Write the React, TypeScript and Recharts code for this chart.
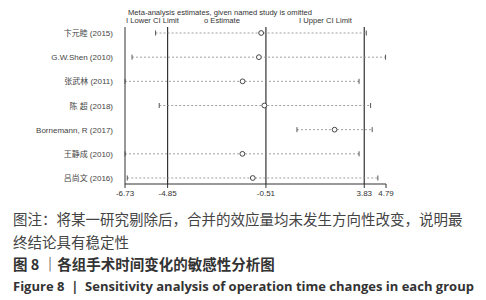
import React from "react";
import {
  ComposedChart,
  Line,
  ErrorBar,
  XAxis,
  YAxis,
  ReferenceLine,
} from "recharts";

// studies omitted one at a time, top to bottom
const studies = [
  "卞元睦 (2015)",
  "G.W.Shen (2010)",
  "张武林 (2011)",
  "陈 超 (2018)",
  "Bornemann, R (2017)",
  "王静成 (2010)",
  "吕尚文 (2016)",
];
const estimate = [-0.72, -0.82, -1.54, -0.58, 2.52, -1.55, -1.09];
const lowerCI = [-5.38, -6.42, -6.73, -5.22, 0.86, -6.73, -6.63];
const upperCI = [3.92, 4.77, 3.6, 4.11, 4.18, 3.6, 4.43];

const xTicks = [-6.73, -4.85, -0.51, 3.83, 4.79];
const pooledLines = [-4.85, -0.51, 3.83];

const data = studies.map((study, i) => ({
  study,
  est: estimate[i],
  low: lowerCI[i],
  high: upperCI[i],
  err: [estimate[i] - lowerCI[i], upperCI[i] - estimate[i]],
}));

const chartFont = "'Liberation Sans', Arial, 'Noto Sans CJK SC', sans-serif";
const cjkFont = "'Noto Sans CJK SC', 'Noto Sans', sans-serif";

const fmt = (v: number) => (v < 0 ? "-" + Math.abs(v).toFixed(2) : v.toFixed(2));

const capDot = (p: any) => (
  <line
    key={p.key ?? `${p.cx}-${p.cy}`}
    x1={p.cx}
    x2={p.cx}
    y1={p.cy - 2.5}
    y2={p.cy + 2.5}
    stroke="#555"
    strokeWidth={1}
  />
);

const estDot = (p: any) => (
  <circle
    key={p.key ?? `${p.cx}-${p.cy}`}
    cx={p.cx}
    cy={p.cy}
    r={2.4}
    fill="#fff"
    stroke="#444"
    strokeWidth={1}
  />
);

// plain text tick so the long names don't wrap
const StudyTick = (p: any) => (
  <text
    x={p.x}
    y={p.y}
    dy={3}
    textAnchor="end"
    fontSize={8}
    fill="#444"
    fontFamily={chartFont}
  >
    {p.payload.value}
  </text>
);

export default function App() {
  return (
    <div
      style={{
        position: "absolute",
        left: 0,
        top: 0,
        width: 486,
        height: 300,
        background: "#fff",
        fontFamily: chartFont,
      }}
    >
      <div style={{ position: "absolute", left: 128, top: 8, fontSize: 7.6, color: "#333", whiteSpace: "nowrap" }}>
        Meta-analysis estimates, given named study is omitted
      </div>
      <div style={{ position: "absolute", left: 126, top: 16, fontSize: 7.6, color: "#333", whiteSpace: "nowrap" }}>
        I Lower CI Limit
      </div>
      <div style={{ position: "absolute", left: 204, top: 16, fontSize: 7.6, color: "#333", whiteSpace: "nowrap" }}>
        o Estimate
      </div>
      <div style={{ position: "absolute", left: 299, top: 16, fontSize: 7.6, color: "#333", whiteSpace: "nowrap" }}>
        I Upper CI Limit
      </div>

      <div style={{ position: "absolute", left: 0, top: 0 }}>
        <ComposedChart
          width={486}
          height={200}
          data={data}
          layout="vertical"
          margin={{ top: 27, right: 100, bottom: 0, left: 0 }}
        >
          <XAxis
            type="number"
            domain={[-6.73, 4.79]}
            ticks={xTicks}
            interval={0}
            tickFormatter={fmt}
            height={16}
            stroke="#333"
            tickSize={4}
            tick={{ fontSize: 8, fill: "#333", fontFamily: chartFont }}
          />
          <YAxis
            type="category"
            dataKey="study"
            scale="point"
            padding={{ top: 6, bottom: 6 }}
            width={125}
            stroke="#333"
            tickLine={false}
            tickMargin={6}
            interval={0}
            tick={<StudyTick />}
          />
          {pooledLines.map((v) => (
            <ReferenceLine key={v} x={v} stroke="#333" strokeWidth={1.2} />
          ))}
          <Line dataKey="low" stroke="none" dot={capDot} isAnimationActive={false} />
          <Line dataKey="high" stroke="none" dot={capDot} isAnimationActive={false} />
          <Line dataKey="est" stroke="none" dot={estDot} isAnimationActive={false}>
            <ErrorBar
              dataKey="err"
              direction="x"
              width={0}
              stroke="#888"
              strokeWidth={0.8}
              strokeDasharray="2 2"
            />
          </Line>
        </ComposedChart>
      </div>

      <div
        style={{
          position: "absolute",
          left: 13,
          top: 207,
          width: 470,
          fontFamily: cjkFont,
          fontSize: 14.5,
          lineHeight: "23px",
          color: "#444",
        }}
      >
        <div>图注：将某一研究剔除后，合并的效应量均未发生方向性改变，说明最</div>
        <div>终结论具有稳定性</div>
        <div style={{ fontWeight: 700, color: "#333", marginTop: -1 }}>图 8 ｜各组手术时间变化的敏感性分析图</div>
        <div style={{ fontWeight: 700, color: "#333", fontFamily: "'Open Sans', 'Noto Sans', sans-serif", fontSize: 13 }}>
          Figure 8 &nbsp;| &nbsp;Sensitivity analysis of operation time changes in each group
        </div>
      </div>
    </div>
  );
}
